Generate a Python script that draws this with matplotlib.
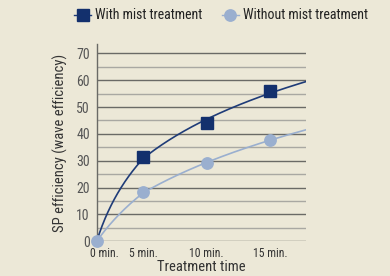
import numpy as np
import matplotlib
matplotlib.use("Agg")
import matplotlib.pyplot as plt
from matplotlib.lines import Line2D
from matplotlib.transforms import ScaledTranslation

# ---- data ----
times = [0, 5, 10, 15]
tick_labels = ["0 min.", "5 min.", "10 min.", "15 min."]
with_mist = [0, 31.5, 44, 56]
without_mist = [0, 18.2, 29.1, 37.8]
series_names = ["With mist treatment", "Without mist treatment"]

BG = "#ECE8D7"
DARK = "#13306D"
DARK_LINE = "#1F3C78"
LIGHT = "#9AAFCF"
TEXT = "#333333"

plt.rcParams['font.family'] = ['Roboto Condensed', 'DejaVu Sans']

fig = plt.figure(figsize=(3.9, 2.76), dpi=100, facecolor=BG)
ax = fig.add_axes([0.248, 0.1257, 0.536, 0.715])
ax.set_facecolor(BG)

# compressed first interval on the time axis
knots_t = [0, 5, 40]
knots_u = [0, 3.65, 38.65]
fwd = lambda t: np.interp(t, knots_t, knots_u)
inv = lambda u: np.interp(u, knots_u, knots_t)
ax.set_xscale('function', functions=(fwd, inv))
ax.set_xlim(0, 17.8)
ax.set_ylim(0, 73.5)

# grid lines
for v in range(0, 71, 5):
    major = v % 10 == 0
    ax.axhline(v, color="#6a6a66" if major else "#a9a8a2",
               lw=1.0, zorder=1)

def fit_log(t, y):
    t = np.asarray(t, float); y = np.asarray(y, float)
    best = None
    for c in np.linspace(1, 40, 400):
        f = np.log1p(t / c)
        a = (f @ y) / (f @ f)
        err = np.sum((a * f - y) ** 2)
        if best is None or err < best[0]:
            best = (err, a, c)
    return best[1], best[2]

tt = np.linspace(0, 17.8, 300)
a1, c1 = fit_log(times, with_mist)
a2, c2 = fit_log(times, without_mist)
ax.plot(tt, a1 * np.log1p(tt / c1), color=DARK_LINE, lw=1.2, zorder=3)
ax.plot(tt, a2 * np.log1p(tt / c2), color=LIGHT, lw=1.2, zorder=3)

ax.plot(times[1:], with_mist[1:], ls='none', marker='s', ms=8.6,
        color=DARK, zorder=4, clip_on=False)
ax.plot(times, without_mist, ls='none', marker='o', ms=8.2,
        color=LIGHT, zorder=5, clip_on=False)

for s in ['top', 'right', 'bottom']:
    ax.spines[s].set_visible(False)
ax.spines['left'].set_color("#6a6a66")
ax.spines['left'].set_linewidth(1.0)

ax.set_yticks(range(0, 71, 10))
ax.set_xticks(times)
ax.set_xticklabels(tick_labels)
ax.tick_params(axis='y', length=0, pad=5, labelsize=10, labelcolor="#555555")
ax.tick_params(axis='x', length=0, pad=4, labelsize=8.5, labelcolor=TEXT)
lbl0 = ax.get_xticklabels()[0]
lbl0.set_transform(lbl0.get_transform() + ScaledTranslation(8/100, 0, fig.dpi_scale_trans))

ax.set_xlabel("Treatment time", fontsize=10.5, color=TEXT, labelpad=0)
ax.set_ylabel("SP efficiency (wave efficiency)", fontsize=10.5, color=TEXT, labelpad=6)

handles = [Line2D([], [], color=DARK_LINE, lw=1.0, marker='s', ms=8.6,
                  markerfacecolor=DARK, markeredgecolor=DARK),
           Line2D([], [], color=LIGHT, lw=1.0, marker='o', ms=8.2,
                  markerfacecolor=LIGHT, markeredgecolor=LIGHT)]
fig.legend(handles, series_names, loc='center', bbox_to_anchor=(0.567, 0.944),
           ncol=2, frameon=False, fontsize=10, handlelength=1.2,
           handletextpad=0.3, columnspacing=1.4, labelcolor="#222222")

fig.savefig("out.png", dpi=100, facecolor=BG)
